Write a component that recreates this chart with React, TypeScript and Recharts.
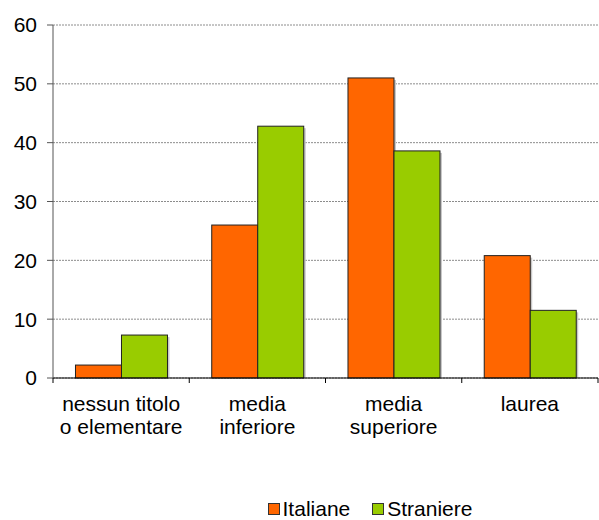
import { BarChart, Bar, XAxis, YAxis, CartesianGrid, Legend } from 'recharts'

const categories = ['nessun titolo\no elementare', 'media\ninferiore', 'media\nsuperiore', 'laurea']
const italiane = [2.2, 26.0, 51.0, 20.8]
const straniere = [7.3, 42.8, 38.6, 11.5]
const yTicks = [0, 10, 20, 30, 40, 50, 60]

const data = categories.map((name, i) => ({
  name,
  italiane: italiane[i],
  straniere: straniere[i],
}))

const WIDTH = 599
const HEIGHT = 520
const LEFT = 53
const RIGHT = 1
const BAND = (WIDTH - LEFT - RIGHT) / categories.length
const FONT = 'Liberation Sans, Arial, sans-serif'

// bar with a soft grey drop shadow behind it
function ShadowBar(props: any) {
  const { x, y, width, height, fill } = props
  if (!height || height <= 0) return null
  return (
    <g>
      <rect x={x + 2} y={y + 2} width={width} height={height - 2} fill="#c8c8c8" />
      <rect x={x} y={y} width={width} height={height} fill={fill} stroke="#222" strokeWidth={1} />
    </g>
  )
}

// category label centred under the band, with a tick mark on the band boundary
function CategoryTick(props: any) {
  const { x, y, payload, index } = props
  const lines = String(payload.value).split('\n')
  const left = x - BAND / 2
  return (
    <g>
      <line x1={left} y1={y - 8} x2={left} y2={y - 3} stroke="#000" />
      {index === categories.length - 1 && (
        <line x1={left + BAND} y1={y - 8} x2={left + BAND} y2={y - 3} stroke="#000" />
      )}
      <text x={x} y={y} textAnchor="middle" fontFamily={FONT} fontSize={21} fill="#000">
        {lines.map((line: string, i: number) => (
          <tspan key={i} x={x} dy={i === 0 ? 25 : 23}>
            {line}
          </tspan>
        ))}
      </text>
    </g>
  )
}

function LegendContent() {
  const items = [
    { label: 'Italiane', color: '#ff6600' },
    { label: 'Straniere', color: '#99cc00' },
  ]
  return (
    <div style={{ display: 'flex', justifyContent: 'center', gap: 22, paddingLeft: 142, paddingTop: 7 }}>
      {items.map((it) => (
        <div key={it.label} style={{ display: 'flex', alignItems: 'center', fontFamily: FONT, fontSize: 21 }}>
          <span
            style={{
              display: 'inline-block',
              width: 10,
              height: 10,
              background: it.color,
              border: '1px solid #333',
              marginRight: 3,
            }}
          />
          {it.label}
        </div>
      ))}
    </div>
  )
}

export default function App() {
  return (
    <div style={{ position: 'absolute', left: 0, top: 0, background: '#fff' }}>
      <BarChart
        width={WIDTH}
        height={HEIGHT}
        data={data}
        margin={{ top: 25, right: RIGHT, left: 0, bottom: 0 }}
        barCategoryGap="16.5%"
        barGap={0}
      >
        <CartesianGrid vertical={false} stroke="#8c8c8c" strokeDasharray="2 1" />
        <XAxis
          dataKey="name"
          height={112}
          interval={0}
          axisLine={{ stroke: '#000' }}
          tickLine={false}
          tick={<CategoryTick />}
        />
        <YAxis
          width={LEFT}
          domain={[0, 60]}
          ticks={yTicks}
          axisLine={{ stroke: '#555' }}
          tickLine={{ stroke: '#555' }}
          tickSize={6}
          tickMargin={10}
          tick={{ fill: '#000', fontSize: 21, fontFamily: FONT }}
        />
        <Legend verticalAlign="bottom" height={30} content={<LegendContent />} />
        <Bar dataKey="italiane" name="Italiane" fill="#ff6600" shape={<ShadowBar />} isAnimationActive={false} />
        <Bar dataKey="straniere" name="Straniere" fill="#99cc00" shape={<ShadowBar />} isAnimationActive={false} />
      </BarChart>
    </div>
  )
}
